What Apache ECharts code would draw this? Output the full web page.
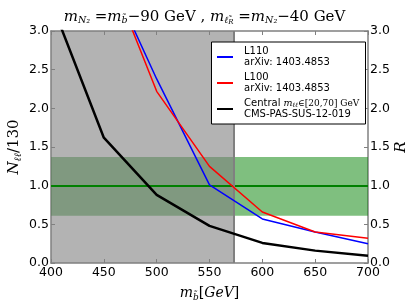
<!DOCTYPE html>
<html><head><meta charset="utf-8">
<script src="https://cdn.jsdelivr.net/npm/echarts@6/dist/echarts.min.js"></script>
<style>html,body{margin:0;padding:0;background:#fff}#c{width:409px;height:307px}</style>
</head><body><div id="c"></div>
<script>
var masses = [400, 450, 500, 550, 600, 650, 700];
var central = [3.38, 1.62, 0.88, 0.48, 0.26, 0.16, 0.094];
var l110 = [null, 3.87, 2.38, 1.01, 0.57, 0.40, 0.25];
var l100 = [null, 3.94, 2.22, 1.25, 0.66, 0.40, 0.32];
var excludedMax = 573;
var bandLow = 0.61, bandHigh = 1.37, bandCenter = 1.0;
var seriesNames = ['L110', 'L100', 'Central'];
var legendLabels = {
  'L110': 'L110\narXiv: 1403.4853',
  'L100': 'L100\narXiv: 1403.4853',
  'Central': 'Central {mi|m}{sb|ℓℓ}{sr|∈[20,70] GeV}\nCMS-PAS-SUS-12-019'
};

function pairs(ys){ return masses.map(function(x,i){ return [x, ys[i]]; }); }

var serif = 'DejaVu Serif';
var chart = echarts.init(document.getElementById('c'), null, {renderer:'canvas'});
var axisCol = '#808080';
var tickFmt = function(v){ return v.toFixed(1); };
chart.setOption({
  animation: false,
  backgroundColor: '#fff',
  title: {
    text: '{mi|m}{sb|N₂}{r| =}{mi|m}{sb|b̃}{r|−90 GeV , }{mi|m}{sb|ℓ̃}{sbs|R}{r| =}{mi|m}{sb|N₂}{r|−40 GeV}',
    left: 'center', top: 3,
    textStyle: {
      fontWeight: 'normal', color: '#000',
      rich: {
        mi: {fontFamily: serif, fontStyle: 'italic', fontWeight: 'normal', color: '#000', fontSize: 15, lineHeight: 18, verticalAlign: 'middle'},
        r: {fontFamily: serif, fontWeight: 'normal', color: '#000', fontSize: 15, lineHeight: 18, verticalAlign: 'middle'},
        sb: {fontFamily: serif, fontStyle: 'italic', fontWeight: 'normal', color: '#000', fontSize: 9.5, lineHeight: 9, verticalAlign: 'bottom'},
        sbs: {fontFamily: serif, fontStyle: 'italic', fontWeight: 'normal', color: '#000', fontSize: 7, lineHeight: 5, verticalAlign: 'bottom'}
      }
    }
  },
  graphic: [{
    type: 'rect', z: 15, silent: true,
    shape: {x: 211.5, y: 42, width: 154, height: 82},
    style: {fill: '#fff', stroke: '#000', lineWidth: 1}
  }],
  legend: {
    orient: 'vertical', left: 211, top: 42, z: 20,
    data: seriesNames,
    icon: 'rect', itemWidth: 16, itemHeight: 2, itemGap: 4,
    padding: [4, 3, 4, 6],
    borderWidth: 0, backgroundColor: 'transparent',
    formatter: function(n){ return legendLabels[n]; },
    textStyle: {
      fontFamily: 'DejaVu Sans', fontSize: 10, lineHeight: 11, color: '#000', padding: [0,0,0,6],
      rich: {
        mi: {fontFamily: serif, fontStyle: 'italic', fontSize: 9.5, lineHeight: 11, color: '#000'},
        sb: {fontFamily: serif, fontStyle: 'italic', fontSize: 6.5, lineHeight: 6, verticalAlign: 'bottom', color: '#000'},
        sr: {fontFamily: serif, fontSize: 9, lineHeight: 11, color: '#000'}
      }
    }
  },
  grid: {left: 51, right: 41, top: 31, bottom: 44, containLabel: false, outerBoundsMode: 'none'},
  xAxis: [{
    type: 'value', min: 400, max: 700, interval: 50,
    name: '{mi|m}{sb|b̃}{r|[}{mi|GeV}{r|]}', nameLocation: 'middle', nameGap: 21, nameMoveOverlap: false,
    nameTextStyle: {color: '#000', rich: {
      mi: {fontFamily: serif, fontStyle: 'italic', fontSize: 14, lineHeight: 18, color: '#000'},
      r: {fontFamily: serif, fontSize: 14, lineHeight: 18, color: '#000'},
      sb: {fontFamily: serif, fontStyle: 'italic', fontSize: 9, lineHeight: 8, verticalAlign: 'bottom', color: '#000'}
    }},
    axisLine: {onZero: false, lineStyle: {color: axisCol, width: 1.5}},
    axisTick: {inside: true, length: 4, lineStyle: {color: axisCol}},
    axisLabel: {fontFamily: 'DejaVu Sans', fontSize: 12.5, color: '#000', margin: 3},
    splitLine: {show: false}
  }, {
    type: 'value', position: 'top', min: 400, max: 700, interval: 50,
    axisLine: {onZero: false, lineStyle: {color: axisCol, width: 1.5}},
    axisTick: {inside: true, length: 4, lineStyle: {color: axisCol}},
    axisLabel: {show: false}, splitLine: {show: false}
  }],
  yAxis: [{
    type: 'value', min: 0, max: 3, interval: 0.5,
    name: '{mi|N}{sb|ℓℓ}{r|/130}', nameLocation: 'middle', nameGap: 28, nameRotate: 90, nameMoveOverlap: false,
    nameTextStyle: {color: '#000', rich: {
      mi: {fontFamily: serif, fontStyle: 'italic', fontSize: 15, lineHeight: 18, color: '#000'},
      r: {fontFamily: serif, fontSize: 15, lineHeight: 18, color: '#000'},
      sb: {fontFamily: serif, fontStyle: 'italic', fontSize: 10, lineHeight: 8, verticalAlign: 'bottom', color: '#000'}
    }},
    axisLine: {show: true, onZero: false, lineStyle: {color: axisCol, width: 1.5}},
    axisTick: {show: true, inside: true, length: 4, lineStyle: {color: axisCol}},
    axisLabel: {fontFamily: 'DejaVu Sans', fontSize: 12.5, color: '#000', margin: 2, formatter: tickFmt},
    splitLine: {show: false}
  }, {
    type: 'value', position: 'right', min: 0, max: 3, interval: 0.5,
    name: 'R', nameLocation: 'middle', nameGap: 26, nameRotate: 90, nameMoveOverlap: false,
    nameTextStyle: {fontFamily: serif, fontStyle: 'italic', fontSize: 15, color: '#000'},
    axisLine: {show: true, onZero: false, lineStyle: {color: axisCol, width: 1.5}},
    axisTick: {show: true, inside: true, length: 4, lineStyle: {color: axisCol}},
    axisLabel: {fontFamily: 'DejaVu Sans', fontSize: 12.5, color: '#000', margin: 2, formatter: tickFmt},
    splitLine: {show: false}
  }],
  series: [
    {
      name: 'band', type: 'line', data: [], z: 1, silent: true,
      markArea: {silent: true, itemStyle: {color: 'rgba(0,128,0,0.5)'},
        data: [[{xAxis: 400, yAxis: bandLow}, {xAxis: 700, yAxis: bandHigh}]]},
      markLine: {silent: true, symbol: 'none', label: {show: false},
        lineStyle: {color: '#008000', width: 2, type: 'solid'},
        data: [[{coord: [400, bandCenter]}, {coord: [700, bandCenter]}]]}
    },
    {
      name: 'excl', type: 'line', data: [], z: 2, silent: true,
      markArea: {silent: true, itemStyle: {color: 'rgba(128,128,128,0.6)'},
        data: [[{xAxis: 400, yAxis: 0}, {xAxis: excludedMax, yAxis: 3}]]},
      markLine: {silent: true, symbol: 'none', label: {show: false},
        lineStyle: {color: '#808080', width: 2, type: 'solid'},
        data: [[{coord: [excludedMax, 0]}, {coord: [excludedMax, 3]}]]}
    },
    {name: 'L110', type: 'line', data: pairs(l110), z: 5, showSymbol: false,
      lineStyle: {color: '#0000ff', width: 1.5}, itemStyle: {color: '#0000ff'}},
    {name: 'L100', type: 'line', data: pairs(l100), z: 5, showSymbol: false,
      lineStyle: {color: '#ff0000', width: 1.5}, itemStyle: {color: '#ff0000'}},
    {name: 'Central', type: 'line', data: pairs(central), z: 5, showSymbol: false,
      lineStyle: {color: '#000000', width: 2.5}, itemStyle: {color: '#000000'}}
  ]
});
</script></body></html>
